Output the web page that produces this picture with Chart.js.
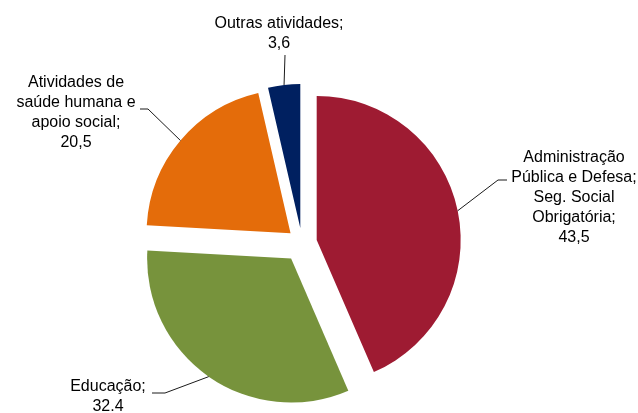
<!DOCTYPE html>
<html>
<head>
<meta charset="utf-8">
<script src="https://cdn.jsdelivr.net/npm/chart.js@4.4.0/dist/chart.umd.min.js"></script>
<style>
  html, body { margin: 0; padding: 0; background: #fff; }
  #wrap { width: 638px; height: 413px; }
</style>
</head>
<body>
<div id="wrap"><canvas id="myChart" width="638" height="413"></canvas></div>
<script>
// data
const categories = [
    'Administração Pública e Defesa; Seg. Social Obrigatória',
    'Educação',
    'Atividades de saúde humana e apoio social',
    'Outras atividades'
];
const values = [43.5, 32.4, 20.5, 3.6];
const valueLabels = ['43,5', '32.4', '20,5', '3,6'];
const labelLines = [
    ['Administração', 'Pública e Defesa;', 'Seg. Social', 'Obrigatória;'],
    ['Educação;'],
    ['Atividades de', 'saúde humana e', 'apoio social;'],
    ['Outras atividades;']
];
const colors = ['#9E1B32', '#77933C', '#E46C0A', '#002060'];

// how far each slice is pulled out (px)
const explode = [15, 19, 15, 15];

// where each label sits and how its leader line runs (x, y of text, then points before the arc)
const labelPos = [
    { cx: 574, y0: 158, path: [[507, 180], [498, 180]] },
    { cx: 108, y0: 387, path: [[152, 393], [165, 393]] },
    { cx: 76,  y0: 83,  path: [[140, 109], [148, 109]] },
    { cx: 279, y0: 24,  path: [[285, 55]] }
];

// chart.js "offset" also grows the slice, so shift the slices ourselves instead
const baseArcDraw = Chart.ArcElement.prototype.draw;
Chart.ArcElement.prototype.draw = function(ctx) {
    const d = this._explode || 0;
    const mid = (this.startAngle + this.endAngle) / 2;
    ctx.save();
    ctx.translate(Math.cos(mid) * d, Math.sin(mid) * d);
    baseArcDraw.call(this, ctx);
    ctx.restore();
};

const outsideLabels = {
    id: 'outsideLabels',
    beforeDatasetsDraw(chart) {
        chart.getDatasetMeta(0).data.forEach(function(arc, i) {
            arc._explode = explode[i];
        });
    },
    afterDatasetsDraw(chart) {
        const ctx = chart.ctx;
        const meta = chart.getDatasetMeta(0);
        ctx.save();
        meta.data.forEach(function(arc, i) {
            const p = arc.getProps(['x', 'y', 'startAngle', 'endAngle', 'outerRadius'], true);
            const mid = (p.startAngle + p.endAngle) / 2;
            const ax = p.x + Math.cos(mid) * (p.outerRadius + explode[i]);
            const ay = p.y + Math.sin(mid) * (p.outerRadius + explode[i]);
            const lp = labelPos[i];

            ctx.strokeStyle = '#1a1a1a';
            ctx.lineWidth = 1;
            ctx.beginPath();
            lp.path.forEach(function(pt, k) {
                if (k === 0) ctx.moveTo(pt[0], pt[1]);
                else ctx.lineTo(pt[0], pt[1]);
            });
            ctx.lineTo(ax, ay);
            ctx.stroke();

            const lines = labelLines[i].concat([valueLabels[i]]);
            ctx.fillStyle = '#000';
            ctx.font = '16px "Liberation Sans", Arial, sans-serif';
            ctx.textAlign = 'center';
            ctx.textBaseline = 'middle';
            lines.forEach(function(t, k) {
                ctx.fillText(t, lp.cx, lp.y0 + k * 20);
            });
        });
        ctx.restore();
    }
};

const data = {
    labels: categories,
    datasets: [{
        data: values,
        backgroundColor: colors,
        borderWidth: 0,
        radius: 144
    }]
};

const config = {
    type: 'pie',
    data: data,
    options: {
        responsive: false,
        animation: false,
        layout: { padding: { left: 0, right: 34, top: 73, bottom: 0 } },
        plugins: {
            legend: { display: false },
            tooltip: { enabled: false }
        }
    },
    plugins: [outsideLabels]
};

const myChart = new Chart(document.getElementById('myChart'), config);
</script>
</body>
</html>
